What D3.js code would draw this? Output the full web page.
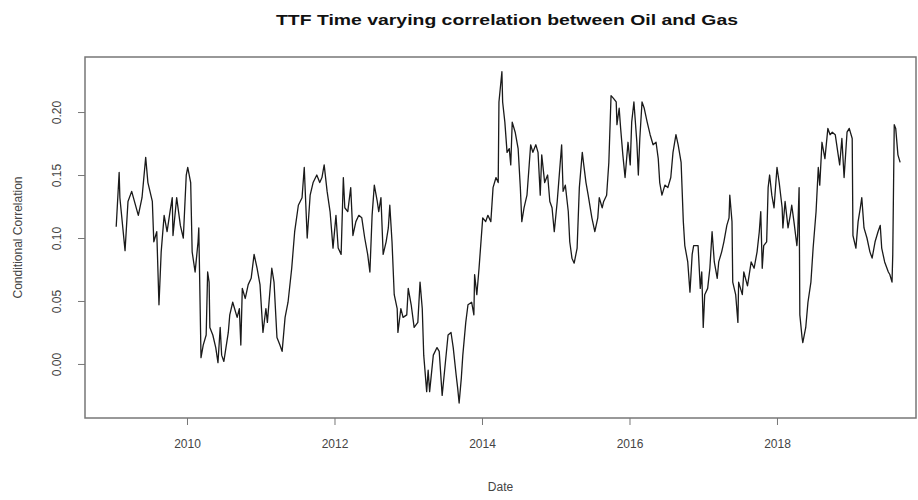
<!DOCTYPE html>
<html>
<head>
<meta charset="utf-8">
<script src="https://cdn.jsdelivr.net/npm/d3@7"></script>
<style>
  html, body { margin: 0; padding: 0; background: #fff; }
  text { font-family: "Liberation Sans", Arial, sans-serif; }
</style>
</head>
<body>
<svg id="chart" width="918" height="500"></svg>
<script>
// ---- data (decimal year, conditional correlation) ----
const dates = [
  2009.04,2009.08,2009.09,2009.16,2009.20,2009.25,2009.34,2009.39,2009.44,2009.47,
  2009.53,2009.55,2009.59,2009.62,2009.65,2009.69,2009.73,2009.77,2009.80,2009.81,
  2009.86,2009.91,2009.95,2009.99,2010.01,2010.05,2010.07,2010.11,2010.15,2010.16,
  2010.19,2010.22,2010.26,2010.28,2010.30,2010.31,2010.35,2010.39,2010.42,2010.45,
  2010.47,2010.50,2010.56,2010.58,2010.62,2010.68,2010.71,2010.73,2010.75,2010.79,
  2010.83,2010.87,2010.91,2010.95,2010.99,2011.03,2011.07,2011.09,
  2011.15,2011.18,2011.22,2011.26,2011.29,2011.33,2011.37,2011.42,2011.46,2011.51,
  2011.56,2011.59,2011.63,2011.67,2011.71,2011.76,2011.80,2011.83,2011.86,2011.90,
  2011.94,2011.98,2012.02,2012.05,2012.09,2012.12,2012.14,2012.18,2012.22,2012.25,
  2012.29,2012.33,2012.37,2012.41,2012.45,2012.48,2012.51,2012.54,2012.58,2012.60,
  2012.63,2012.66,2012.70,2012.73,2012.75,2012.78,2012.81,2012.85,2012.86,2012.90,
  2012.93,2012.98,2013.00,2013.04,2013.08,2013.13,2013.16,2013.19,2013.21,2013.25,
  2013.27,2013.29,2013.34,2013.39,2013.42,2013.46,2013.50,2013.54,2013.58,2013.61,
  2013.65,2013.67,2013.69,2013.72,2013.74,2013.78,2013.81,2013.86,2013.89,2013.90,
  2013.93,2013.96,2013.99,2014.01,2014.05,2014.08,2014.12,2014.15,2014.19,2014.22,
  2014.23,2014.27,2014.28,2014.31,2014.34,2014.37,2014.39,2014.41,2014.45,2014.49,
  2014.52,2014.54,2014.57,2014.61,2014.64,2014.66,2014.69,2014.73,2014.76,2014.79,
  2014.81,2014.85,2014.89,2014.92,2014.95,2014.98,2015.02,2015.04,2015.08,2015.10,
  2015.13,2015.17,2015.19,2015.22,2015.25,2015.29,2015.32,2015.36,2015.38,2015.41,
  2015.44,2015.49,2015.53,2015.57,2015.59,2015.63,2015.65,2015.69,2015.72,2015.75,
  2015.78,2015.82,2015.83,2015.86,2015.88,2015.91,2015.94,2015.98,2016.01,2016.03,
  2016.06,2016.10,2016.12,2016.14,2016.17,2016.20,2016.24,2016.28,2016.32,2016.36,
  2016.39,2016.41,2016.44,2016.48,2016.52,2016.56,2016.59,2016.63,2016.66,2016.70,
  2016.73,2016.75,2016.79,2016.82,2016.85,2016.87,2016.93,2016.96,2016.98,2017.00,
  2017.02,2017.06,2017.09,2017.12,2017.15,2017.19,2017.21,2017.25,2017.28,2017.32,
  2017.35,2017.36,2017.39,2017.40,2017.44,2017.47,2017.48,2017.53,2017.55,2017.60,
  2017.65,2017.69,2017.73,2017.76,2017.78,2017.80,2017.82,2017.86,2017.88,2017.90,
  2017.93,2017.96,2018.00,2018.03,2018.07,2018.08,2018.11,2018.15,2018.18,2018.20,
  2018.23,2018.27,2018.28,2018.30,2018.31,2018.34,2018.35,2018.39,2018.42,2018.46,
  2018.49,2018.53,2018.56,2018.58,2018.61,2018.65,2018.69,2018.72,2018.75,2018.79,
  2018.83,2018.85,2018.88,2018.91,2018.95,2018.98,2019.02,2019.03,2019.07,2019.10,
  2019.13,2019.15,2019.18,2019.22,2019.26,2019.29,2019.33,2019.37,2019.40,2019.42,
  2019.46,2019.51,2019.53,2019.56,2019.57,2019.59,2019.61,2019.64,2019.67
];
const correlation = [
  0.109,0.152,0.132,0.090,0.129,0.137,0.118,0.132,0.164,0.144,
  0.129,0.097,0.105,0.047,0.089,0.118,0.105,0.121,0.132,0.102,
  0.132,0.110,0.100,0.150,0.156,0.144,0.089,0.073,0.097,0.108,
  0.005,0.015,0.023,0.073,0.065,0.029,0.023,0.013,0.001,0.029,
  0.007,0.002,0.025,0.039,0.049,0.037,0.044,0.015,0.060,0.052,
  0.063,0.068,0.087,0.076,0.063,0.025,0.044,0.033,
  0.076,0.065,0.021,0.015,0.010,0.037,0.049,0.076,0.105,0.126,
  0.132,0.156,0.100,0.134,0.144,0.150,0.144,0.148,0.158,0.137,
  0.121,0.092,0.118,0.092,0.087,0.148,0.124,0.121,0.140,0.102,
  0.113,0.118,0.116,0.100,0.087,0.073,0.118,0.142,0.129,0.121,
  0.132,0.087,0.097,0.108,0.126,0.097,0.055,0.044,0.025,0.044,
  0.037,0.039,0.060,0.047,0.029,0.033,0.065,0.044,0.007,-0.022,
  -0.005,-0.022,0.007,0.013,0.010,-0.025,-0.001,0.023,0.025,0.013,
  -0.009,-0.019,-0.031,-0.011,0.007,0.033,0.047,0.049,0.039,0.071,
  0.055,0.076,0.100,0.116,0.113,0.118,0.113,0.140,0.148,0.144,
  0.208,0.232,0.208,0.192,0.168,0.171,0.158,0.192,0.184,0.171,
  0.140,0.113,0.124,0.134,0.158,0.174,0.168,0.174,0.168,0.134,
  0.166,0.144,0.150,0.129,0.124,0.105,0.129,0.144,0.174,0.137,
  0.142,0.121,0.097,0.084,0.080,0.092,0.140,0.168,0.158,0.144,
  0.134,0.116,0.105,0.116,0.132,0.124,0.129,0.134,0.160,0.213,
  0.211,0.208,0.190,0.203,0.187,0.166,0.148,0.176,0.158,0.192,
  0.208,0.176,0.150,0.179,0.208,0.203,0.192,0.182,0.174,0.176,
  0.163,0.144,0.134,0.142,0.140,0.148,0.168,0.182,0.174,0.160,
  0.113,0.094,0.081,0.057,0.087,0.094,0.094,0.060,0.073,0.029,
  0.055,0.060,0.076,0.105,0.081,0.068,0.081,0.089,0.097,0.110,
  0.116,0.134,0.113,0.065,0.055,0.033,0.065,0.055,0.073,0.062,
  0.081,0.076,0.089,0.105,0.121,0.076,0.094,0.097,0.140,0.150,
  0.134,0.124,0.156,0.144,0.124,0.108,0.129,0.108,0.118,0.126,
  0.113,0.094,0.102,0.140,0.039,0.021,0.017,0.029,0.049,0.065,
  0.092,0.121,0.156,0.142,0.176,0.163,0.187,0.182,0.184,0.182,
  0.166,0.158,0.179,0.148,0.184,0.187,0.179,0.102,0.092,0.113,
  0.124,0.132,0.108,0.100,0.089,0.084,0.097,0.105,0.110,0.092,
  0.081,0.073,0.071,0.065,0.087,0.190,0.187,0.166,0.160
];
const xTicks = [2010, 2012, 2014, 2016, 2018];
const yTicks = [0.00, 0.05, 0.10, 0.15, 0.20];
const titleText = "TTF Time varying correlation between Oil and Gas";
const xLabel = "Date";
const yLabel = "Conditional Correlation";

// ---- layout ----
const svg = d3.select("#chart");
const L = 85, R = 916, T = 57, B = 418;

const x = d3.scaleLinear().domain([2008.617, 2019.885]).range([L, R]);
const y = d3.scaleLinear().domain([-0.0429, 0.2437]).range([B, T]);

const pts = dates.map((d, i) => [d, correlation[i]]);

// line
svg.append("path")
  .datum(pts)
  .attr("fill", "none")
  .attr("stroke", "#1a1a1a")
  .attr("stroke-width", 1.3)
  .attr("stroke-linejoin", "round")
  .attr("d", d3.line().x(d => x(d[0])).y(d => y(d[1])));

// box
svg.append("rect")
  .attr("x", L).attr("y", T).attr("width", R - L).attr("height", B - T)
  .attr("fill", "none").attr("stroke", "#777").attr("stroke-width", 1.5);

// x axis
const xAxis = svg.append("g")
  .attr("transform", `translate(0,${B})`)
  .call(d3.axisBottom(x).tickValues(xTicks).tickFormat(d3.format("d")).tickSize(7).tickPadding(14));
xAxis.select(".domain").remove();
xAxis.selectAll("line").attr("stroke", "#777");
xAxis.selectAll("text").attr("fill", "#444").style("font-size", "12px")
  .style("font-family", '"Liberation Sans", Arial, sans-serif');

// y axis
const yAxis = svg.append("g")
  .attr("transform", `translate(${L},0)`)
  .call(d3.axisLeft(y).tickValues(yTicks).tickFormat(d3.format(".2f")).tickSize(7));
yAxis.select(".domain").remove();
yAxis.selectAll("line").attr("stroke", "#777");
yAxis.selectAll("text")
  .attr("fill", "#444").style("font-size", "12px")
  .style("font-family", '"Liberation Sans", Arial, sans-serif')
  .attr("text-anchor", "middle")
  .attr("dy", null)
  .attr("x", null)
  .attr("transform", "translate(-27,0) rotate(-90)")
  .attr("y", 0)
  .attr("dominant-baseline", "middle");

// title
svg.append("text")
  .attr("x", 507).attr("y", 25)
  .attr("text-anchor", "middle")
  .attr("textLength", 462).attr("lengthAdjust", "spacingAndGlyphs")
  .style("font-size", "15px").style("font-weight", "bold").attr("fill", "#111")
  .text(titleText);

// axis labels
svg.append("text")
  .attr("x", (L + R) / 2).attr("y", 491)
  .attr("text-anchor", "middle")
  .style("font-size", "12px").attr("fill", "#444")
  .text(xLabel);

svg.append("text")
  .attr("transform", `translate(22,${(T + B) / 2}) rotate(-90)`)
  .attr("text-anchor", "middle")
  .style("font-size", "12px").attr("fill", "#444")
  .text(yLabel);
</script>
</body>
</html>
